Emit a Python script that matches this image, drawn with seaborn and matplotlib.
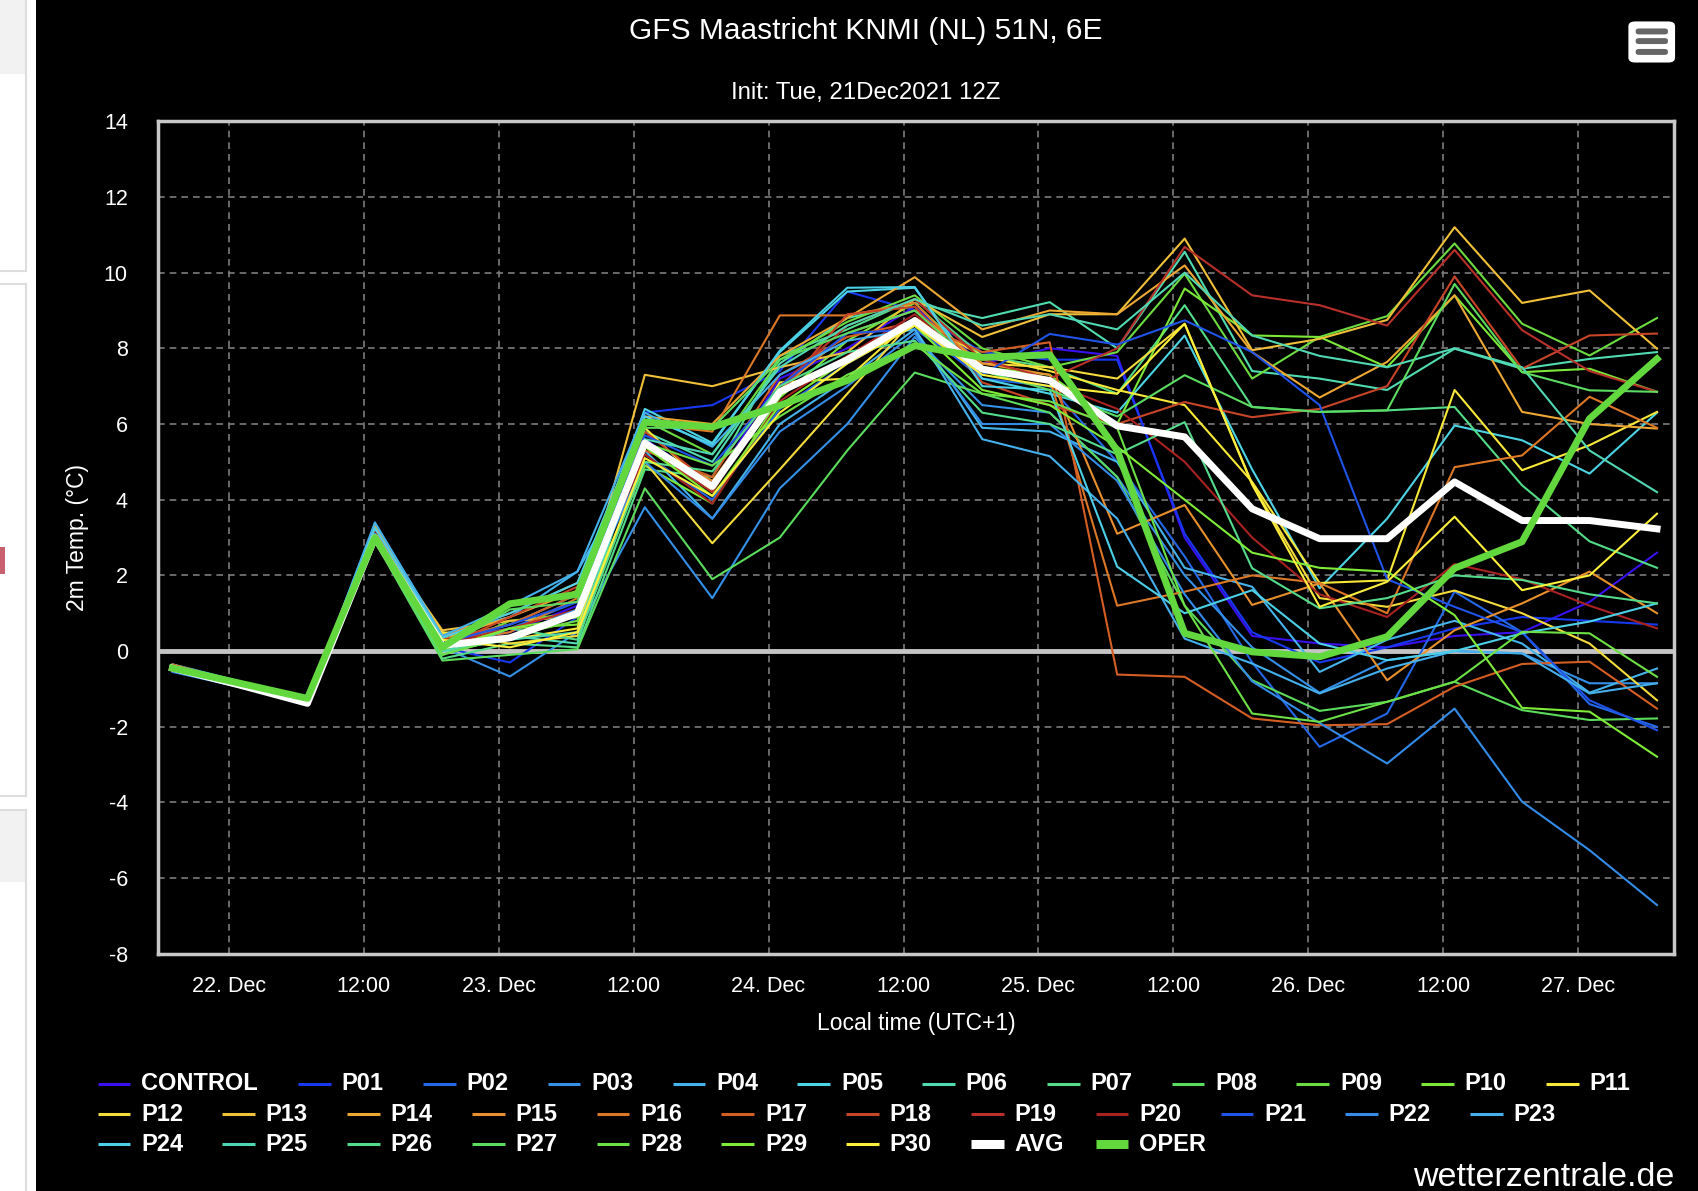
import pandas as pd
import numpy as np
import matplotlib.pyplot as plt
import seaborn as sns
from matplotlib.lines import Line2D
from matplotlib.patches import Rectangle, FancyBboxPatch

# 6-hourly output, local time (UTC+1), first step +6h from 12Z init
times = pd.date_range("2021-12-21 19:00", periods=23, freq="6h")

control = [-0.4, -0.9, -1.35, 3.1, 0.2, 0.5, 1.2, 5.6, 4.4, 7.2, 8.0, 9.1, 7.6, 8.0, 7.8, 3.0, 0.4, 0.2, 0.1, 0.4, 0.5, 1.3, 2.6]
p01 = [-0.5, -0.95, -1.4, 3.0, 0.1, -0.3, 0.9, 6.3, 6.5, 7.4, 9.5, 9.0, 7.9, 7.7, 7.7, 3.1, 0.5, -0.3, 0.1, 0.6, 0.9, 0.8, 0.7]
p02 = [-0.45, -0.9, -1.35, 3.2, 0.3, 0.6, 1.3, 5.2, 4.0, 6.4, 7.6, 8.6, 7.2, 7.0, 5.0, 2.5, -0.3, -2.53, -1.65, 1.57, 0.5, -1.4, -2.0]
p03 = [-0.5, -0.9, -1.4, 3.3, 0.1, -0.67, 0.5, 3.8, 1.4, 4.3, 6.0, 8.3, 6.5, 6.3, 4.6, 2.0, 0.1, -1.1, -0.24, 0.0, -0.06, -0.85, -0.85]
p04 = [-0.4, -0.85, -1.3, 3.35, 0.45, 0.9, 2.1, 5.3, 3.5, 6.0, 7.2, 8.5, 5.9, 5.8, 5.0, 2.2, 1.7, -0.55, 0.3, 0.8, 0.2, -1.1, -0.46]
p05 = [-0.35, -0.8, -1.3, 3.3, 0.3, 0.7, 1.5, 6.4, 5.5, 7.9, 9.5, 9.6, 7.2, 6.8, 6.3, 8.34, 4.8, 1.66, 3.5, 5.96, 5.57, 4.69, 6.3]
p06 = [-0.4, -0.9, -1.35, 3.0, 0.0, 0.4, 0.2, 5.8, 5.0, 7.6, 8.8, 9.2, 8.8, 9.22, 8.0, 10.55, 7.4, 7.2, 6.9, 7.99, 7.46, 7.72, 7.9]
p07 = [-0.4, -0.9, -1.4, 2.95, -0.2, 0.2, 0.1, 4.8, 4.6, 7.8, 8.5, 9.3, 7.8, 7.5, 6.8, 9.14, 6.45, 6.32, 6.36, 6.45, 4.38, 2.9, 2.2]
p08 = [-0.45, -0.95, -1.4, 2.9, -0.25, -0.1, 0.05, 4.3, 1.9, 3.0, 5.3, 7.36, 6.8, 6.3, 4.6, 1.2, -0.77, -1.58, -1.34, -0.81, -1.56, -1.82, -1.78]
p09 = [-0.4, -0.85, -1.3, 3.0, 0.0, 0.8, 1.0, 6.1, 5.2, 7.7, 8.7, 9.4, 8.0, 7.5, 7.9, 9.97, 7.2, 8.3, 8.85, 10.77, 8.65, 7.81, 8.8]
p10 = [-0.4, -0.9, -1.35, 3.05, 0.1, 0.6, 0.7, 4.9, 3.9, 6.7, 8.2, 9.2, 7.5, 7.3, 6.0, 9.58, 8.34, 8.3, 7.5, 9.4, 7.37, 7.46, 6.85]
p11 = [-0.45, -0.9, -1.35, 2.9, 0.5, 0.3, 0.6, 5.9, 4.2, 7.1, 7.2, 8.8, 7.8, 7.4, 6.9, 6.5, 4.47, 1.8, 1.87, 6.9, 4.78, 5.44, 6.32]
p12 = [-0.4, -0.85, -1.35, 2.9, 0.45, 0.2, 0.4, 5.0, 2.85, 4.8, 6.8, 8.8, 7.6, 7.5, 7.2, 8.65, 4.42, 1.4, 1.17, 1.6, 1.0, 0.2, -1.3]
p13 = [-0.45, -0.9, -1.4, 3.1, 0.55, 0.8, 0.9, 7.3, 7.0, 7.5, 7.9, 9.3, 8.3, 8.9, 8.9, 10.9, 7.95, 8.25, 8.75, 11.2, 9.2, 9.53, 7.99]
p14 = [-0.4, -0.9, -1.35, 3.3, 0.3, 0.9, 1.6, 6.2, 6.0, 7.8, 8.8, 9.88, 8.5, 9.0, 8.9, 10.19, 7.9, 6.7, 7.64, 9.4, 6.32, 6.0, 5.88]
p15 = [-0.45, -0.9, -1.4, 3.2, 0.4, 1.0, 1.8, 5.5, 4.5, 6.9, 8.4, 9.0, 7.6, 7.3, 3.1, 3.86, 1.22, 1.79, -0.77, 0.55, 1.26, 2.1, 1.0]
p16 = [-0.4, -0.85, -1.3, 3.2, 0.2, 0.5, 1.4, 6.0, 5.8, 8.87, 8.87, 9.2, 7.4, 7.2, 1.2, 1.57, 2.0, 1.8, 1.0, 4.86, 5.17, 6.72, 5.9]
p17 = [-0.35, -0.85, -1.35, 3.1, 0.3, 0.7, 1.5, 5.3, 4.6, 7.3, 8.3, 8.7, 7.9, 8.16, -0.62, -0.68, -1.78, -1.96, -1.93, -0.94, -0.34, -0.28, -1.52]
p18 = [-0.4, -0.9, -1.4, 3.0, 0.1, 0.9, 1.7, 5.8, 4.4, 6.8, 8.9, 9.1, 7.1, 6.5, 6.0, 6.58, 6.18, 6.4, 7.0, 9.9, 7.46, 8.34, 8.39]
p19 = [-0.45, -0.95, -1.4, 3.0, 0.2, 0.6, 1.1, 5.4, 4.2, 7.0, 8.6, 9.3, 7.7, 7.2, 8.0, 10.68, 9.4, 9.14, 8.6, 10.6, 8.48, 7.4, 6.85]
p20 = [-0.4, -0.9, -1.35, 3.15, 0.3, 0.4, 1.0, 5.2, 3.9, 6.6, 7.8, 8.9, 7.5, 7.1, 6.4, 5.0, 3.0, 1.5, 0.9, 2.3, 1.9, 1.2, 0.6]
p21 = [-0.45, -0.9, -1.35, 3.0, 0.2, 0.7, 1.3, 5.7, 4.9, 7.0, 8.4, 8.5, 7.3, 8.38, 8.1, 8.74, 7.9, 6.5, 1.9, 1.17, 0.5, -1.3, -2.09]
p22 = [-0.55, -0.95, -1.4, 3.1, 0.2, 0.4, 1.1, 5.0, 3.5, 5.8, 7.0, 8.4, 6.0, 6.0, 4.5, 1.5, -0.8, -1.9, -2.97, -1.52, -3.98, -5.26, -6.71]
p23 = [-0.4, -0.9, -1.35, 3.4, 0.4, 1.2, 2.1, 6.3, 5.4, 7.3, 8.2, 8.5, 5.6, 5.15, 3.5, 0.33, -0.33, -1.12, -0.46, 0.0, -0.06, -1.12, -0.85]
p24 = [-0.4, -0.85, -1.3, 3.25, 0.35, 1.0, 1.8, 6.2, 5.46, 7.94, 9.6, 9.62, 7.0, 6.9, 2.23, 1.0, 1.61, 0.2, -0.24, 0.0, 0.47, 0.78, 1.26]
p25 = [-0.4, -0.9, -1.35, 3.0, 0.0, 0.3, 0.5, 5.6, 5.2, 7.5, 8.6, 9.3, 8.6, 8.9, 8.5, 10.0, 8.34, 7.8, 7.5, 8.0, 7.5, 5.3, 4.2]
p26 = [-0.45, -0.9, -1.4, 2.95, -0.1, 0.6, 0.3, 5.0, 4.75, 7.0, 7.9, 8.2, 6.3, 6.0, 5.2, 6.05, 2.19, 1.13, 1.4, 2.0, 1.88, 1.5, 1.26]
p27 = [-0.4, -0.9, -1.35, 3.0, 0.05, 1.1, 1.3, 5.9, 5.9, 7.7, 8.4, 9.0, 7.4, 6.9, 6.2, 7.29, 6.45, 6.32, 6.36, 9.7, 7.37, 6.89, 6.85]
p28 = [-0.4, -0.9, -1.35, 3.05, -0.1, 0.4, 0.8, 5.5, 4.9, 6.2, 7.3, 8.1, 6.8, 6.6, 5.9, 1.2, -1.65, -1.87, -1.34, -0.81, 0.51, 0.47, -0.68]
p29 = [-0.45, -0.95, -1.4, 3.0, 0.05, 0.6, 0.9, 5.4, 4.1, 6.5, 7.7, 8.6, 6.9, 6.5, 5.4, 4.0, 2.6, 2.2, 2.1, 0.95, -1.5, -1.6, -2.79]
p30 = [-0.4, -0.85, -1.3, 2.9, 0.3, 0.1, 0.5, 5.1, 4.1, 6.3, 7.6, 8.6, 7.3, 7.0, 6.8, 8.65, 4.4, 1.17, 1.83, 3.55, 1.61, 2.0, 3.63]

avg = [-0.45, -0.9, -1.38, 3.0, 0.15, 0.35, 1.0, 5.5, 4.35, 6.85, 7.7, 8.73, 7.45, 7.15, 5.95, 5.66, 3.76, 2.97, 2.97, 4.47, 3.45, 3.45, 3.23]
oper = [-0.45, -0.85, -1.25, 3.0, 0.1, 1.25, 1.5, 6.05, 5.92, 6.49, 7.15, 8.07, 7.76, 7.83, 5.3, 0.47, -0.02, -0.15, 0.38, 2.19, 2.89, 6.14, 7.72]

member_names = ["CONTROL"] + [f"P{i:02d}" for i in range(1, 31)]
member_values = [control, p01, p02, p03, p04, p05, p06, p07, p08, p09, p10,
                 p11, p12, p13, p14, p15, p16, p17, p18, p19, p20,
                 p21, p22, p23, p24, p25, p26, p27, p28, p29, p30]
member_colors = ["#3a10f0", "#1838f0", "#2468e8", "#3490e8", "#44b4ec", "#4cd4e4",
                 "#50dcb0", "#54dc88", "#5cdc5c", "#6cdc40", "#7ce838",
                 "#f8e838", "#f4dc3c", "#f0c038", "#eca832", "#e8902c", "#dc7826",
                 "#d45e24", "#c84628", "#b8302a", "#a82222",
                 "#2054e8", "#348ce8", "#44b0ec", "#4cd0e8", "#50d8b4", "#54dc8c",
                 "#5cdc60", "#6ce044", "#80ec38", "#fcf03c"]
avg_color = "#ffffff"
oper_color = "#62d83e"

tick_times = pd.date_range("2021-12-22 00:00", "2021-12-27 00:00", freq="12h")
tick_labels = ["12:00" if t.hour == 12 else f"{t.day}. Dec" for t in tick_times]

df = pd.DataFrame([
    {"time": t, "temp": v, "member": name}
    for name, vals in zip(member_names, member_values)
    for t, v in zip(times, vals)
])
palette = dict(zip(member_names, member_colors))

plt.rcParams["axes.unicode_minus"] = False
plt.rcParams["lines.solid_joinstyle"] = "round"
plt.rcParams["font.family"] = ["Liberation Sans", "DejaVu Sans"]

fig = plt.figure(figsize=(16.98, 11.91), dpi=100, facecolor="black")
ax = fig.add_axes([0.0933, 0.1991, 0.8925, 0.6991])
ax.set_facecolor("black")

ax.axhline(0, color="#c4c4c4", lw=3.5, zorder=1.2)
ax.grid(True, color="#7c7c7c", lw=1.2, linestyle=(0, (4, 3)), zorder=1.5)
ax.set_axisbelow(True)

sns.lineplot(data=df, x="time", y="temp", hue="member", hue_order=member_names,
             palette=palette, linewidth=1.5, legend=False, estimator=None, ax=ax)
sns.lineplot(x=times, y=avg, color=avg_color, linewidth=5, ax=ax)
sns.lineplot(x=times, y=oper, color=oper_color, linewidth=5, ax=ax)

ax.set_xlim(pd.Timestamp("2021-12-21 17:45"), pd.Timestamp("2021-12-27 08:30"))
ax.set_ylim(-8, 14)
ax.set_yticks(np.arange(-8, 15, 2))
ax.set_xticks(tick_times)
ax.set_xticklabels(tick_labels)
ax.tick_params(colors="white", labelsize=15.5, length=0)
ax.tick_params(axis="y", pad=22)
ax.tick_params(axis="x", pad=16)
for s in ax.spines.values():
    s.set_color("#c8c8c8")
    s.set_linewidth(2.5)

ax.set_xlabel("Local time (UTC+1)", color="white", fontsize=16.5, labelpad=11)
ax.set_ylabel("2m Temp. (°C)", color="white", fontsize=16.5, labelpad=11)

fig.text(0.510, 0.9738, "GFS Maastricht KNMI (NL) 51N, 6E", color="white",
         fontsize=21.5, ha="center", va="center")
fig.text(0.510, 0.9220, "Init: Tue, 21Dec2021 12Z", color="white",
         fontsize=17.3, ha="center", va="center")
fig.text(0.986, 0.0115, "wetterzentrale.de", color="white", fontsize=24.5,
         ha="right", va="center")

# legend laid out in rows like the original
legend_names = member_names + ["AVG", "OPER"]
legend_colors = member_colors + [avg_color, oper_color]
row_y = [0.0900, 0.0645, 0.0391]
step = 0.07348
rows = [legend_names[0:12], legend_names[12:24], legend_names[24:]]
k = 0
for r, row in enumerate(rows):
    for j, name in enumerate(row):
        if r == 0:
            x0 = 0.0575 if j == 0 else 0.1757 + (j - 1) * step
        else:
            x0 = 0.0575 + j * step
        thick = name in ("AVG", "OPER")
        fig.add_artist(Line2D([x0, x0 + 0.0192], [row_y[r], row_y[r]],
                              transform=fig.transFigure, color=legend_colors[k],
                              lw=6.5 if thick else 2.2, solid_capstyle="butt"))
        fig.text(x0 + 0.0256, row_y[r], name, color="white", fontsize=17,
                 fontweight="bold", ha="left", va="center")
        k += 1

# export menu button
fig.add_artist(FancyBboxPatch((0.9590, 0.9475), 0.0275, 0.0345,
                              boxstyle="round,pad=0,rounding_size=0.004",
                              transform=fig.transFigure, facecolor="white",
                              edgecolor="none"))
for yb in [0.9736, 0.9655, 0.9564]:
    fig.add_artist(FancyBboxPatch((0.9633, yb - 0.0025), 0.019, 0.005,
                                  boxstyle="round,pad=0,rounding_size=0.002",
                                  transform=fig.transFigure, facecolor="#666666",
                                  edgecolor="none"))

# page strip on the left
fig.add_artist(Rectangle((0, 0), 0.0211, 1, transform=fig.transFigure,
                         facecolor="white", edgecolor="none"))
fig.add_artist(Rectangle((0, 1 - 68 / 1100), 0.0153, 68 / 1100,
                         transform=fig.transFigure, facecolor="#f2f2f2",
                         edgecolor="none"))
fig.add_artist(Rectangle((0, 1 - 815 / 1100), 0.0153, 67 / 1100,
                         transform=fig.transFigure, facecolor="#f2f2f2",
                         edgecolor="none"))
for y0, y1 in [(0, 250), (262, 735), (748, 1100)]:
    fig.add_artist(Line2D([0.0153, 0.0153], [1 - y0 / 1100, 1 - y1 / 1100],
                          transform=fig.transFigure, color="#dddddd", lw=1.5))
for yy in [250, 262, 735, 748]:
    fig.add_artist(Line2D([0, 0.0153], [1 - yy / 1100, 1 - yy / 1100],
                          transform=fig.transFigure, color="#dddddd", lw=1.5))
fig.add_artist(Rectangle((0, 1 - 530 / 1100), 0.003, 25 / 1100,
                         transform=fig.transFigure, facecolor="#c86070",
                         edgecolor="none"))

fig.savefig("out.png", dpi=100, facecolor="black")
